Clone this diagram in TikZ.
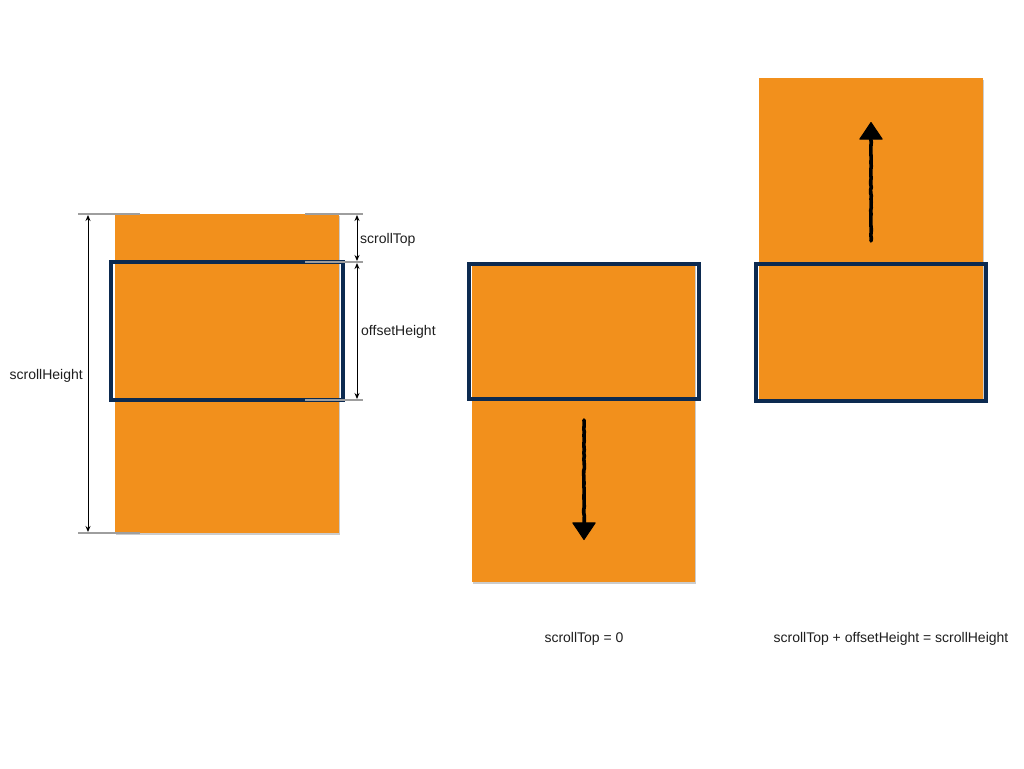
\documentclass[tikz,border=0pt]{standalone}
\usepackage{fontspec}
\setmainfont{Liberation Sans}
\usetikzlibrary{arrows.meta,decorations.pathmorphing,calc}
\definecolor{slaborange}{HTML}{F2901C}
\definecolor{viewnavy}{HTML}{0C2A50}
\definecolor{extgrey}{HTML}{9E9E9E}
\definecolor{txtgrey}{HTML}{1E1E1E}
\tikzset{
  slab/.style={fill=slaborange, draw=none},
  slabshadow/.style={fill=black!20, draw=none},
  viewport/.style={draw=viewnavy, line width=4pt},
  extline/.style={draw=extgrey, line width=2.2pt},
  dimarrow/.style={draw=black, line width=0.9pt, {Stealth[length=6pt,width=5pt]}-{Stealth[length=6pt,width=5pt]}},
  motionshaft/.style={draw=black, line width=3.6pt, line join=round, line cap=round,
    decorate, decoration={random steps, segment length=3pt, amplitude=0.35pt}},
  motionhead/.style={draw=black, fill=black, line width=1pt, line join=round,
    -{Triangle[length=18pt,width=24pt,round]}},
  lbl/.style={font=\fontsize{14}{16}\selectfont, text=txtgrey, inner sep=0pt}
}
\begin{document}
\begin{tikzpicture}[x=1pt,y=-1pt]
\useasboundingbox[fill=white] (0,0) rectangle (1024,768);
% ---- left diagram ----
\fill[slabshadow] (115.5,215.5) rectangle (339.8,535);
\fill[slab] (115,214) rectangle (339,533);
\draw[viewport] (111,262) rectangle (343,400);
\draw[extline] (78,214) -- (140,214);
\draw[extline] (305,214) -- (363,214);
\draw[extline] (305,262) -- (363,262);
\draw[extline] (305,400) -- (363,400);
\draw[extline] (78,533) -- (140,533);
\coordinate (shTop) at (88,215);
\coordinate (shBot) at (88,532);
\coordinate (stTop) at (357,215);
\coordinate (stBot) at (357,261);
\coordinate (ohTop) at (357,263);
\coordinate (ohBot) at (357,399);
\draw[dimarrow] (shTop) -- (shBot);
\draw[dimarrow] (stTop) -- (stBot);
\draw[dimarrow] (ohTop) -- (ohBot);
\node[lbl, anchor=west] (lblST) at (360,240) {scrollTop};
\node[lbl, anchor=west] (lblOH) at (361,332) {offsetHeight};
\node[lbl, anchor=east] (lblSH) at (83,376) {scrollHeight};
% ---- middle diagram ----
\fill[slabshadow] (472.5,263.5) rectangle (695.8,584);
\fill[slab] (472,262) rectangle (695,582);
\draw[viewport] (468.5,263.5) rectangle (699,398.5);
\coordinate (downStart) at (584,420);
\coordinate (downEnd) at (584,540);
\draw[motionshaft] (downStart) -- ($(downEnd)!12pt!(downStart)$);
\draw[motionhead] ($(downEnd)!20pt!(downStart)$) -- (downEnd);
\node[lbl] (lblZero) at (584,639) {scrollTop = 0};
% ---- right diagram ----
\fill[slabshadow] (759.5,79.5) rectangle (983.8,402);
\fill[slab] (759,78) rectangle (983,400);
\draw[viewport] (755.5,264) rectangle (986,401);
\coordinate (upStart) at (871,241);
\coordinate (upEnd) at (871,122);
\draw[motionshaft] (upStart) -- ($(upEnd)!12pt!(upStart)$);
\draw[motionhead] ($(upEnd)!20pt!(upStart)$) -- (upEnd);
\node[lbl] (lblSum) at (891,639) {scrollTop + offsetHeight = scrollHeight};
\end{tikzpicture}
\end{document}
